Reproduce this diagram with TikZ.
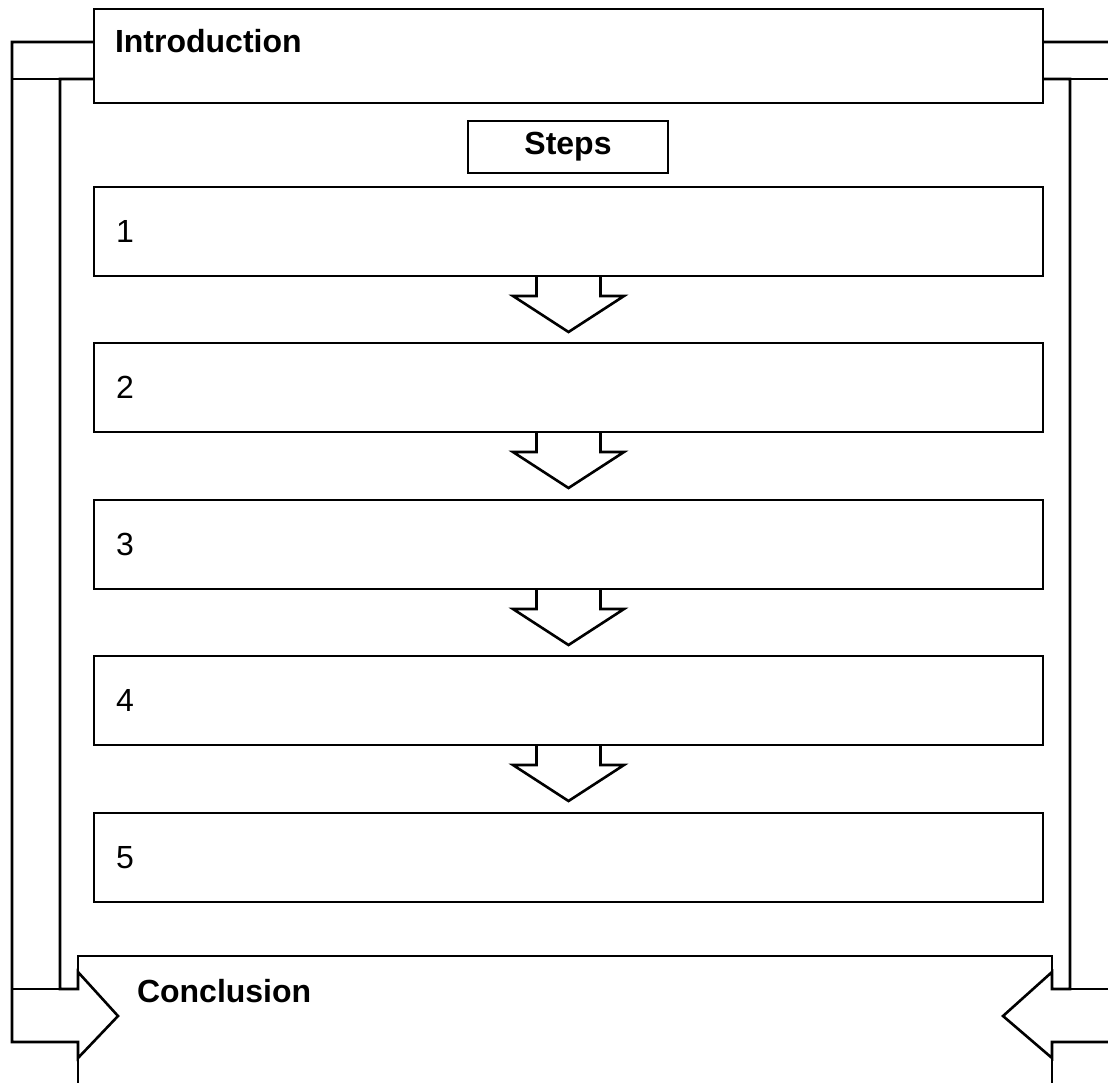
\documentclass[tikz,border=0pt]{standalone}
\usepackage{fontspec}
\setmainfont{Liberation Sans}
\usetikzlibrary{backgrounds}

\tikzset{
  box/.style={shape=rectangle, draw=black, line width=1.3pt, outer sep=0pt,
    font=\fontsize{16}{19}\selectfont},
  headbox/.style={box, anchor=north west, inner ysep=0pt, align=left},
  stepbox/.style={box, anchor=north west, inner xsep=11pt, text width=452.5pt,
    minimum height=44.5pt, align=left},
  titlebox/.style={box, minimum width=100pt, minimum height=26pt, inner sep=0pt},
  bracket/.style={draw=black, fill=white, line width=1.3pt, line join=miter},
  downarrow/.style={draw=black, line width=1.3pt, line join=miter}
}

\begin{document}
\begin{tikzpicture}[x=0.5pt, y=-0.5pt]
        \useasboundingbox (0,0) rectangle (1108,1082);
        \clip (0,0) rectangle (1108,1082);

        \node[headbox, inner xsep=10.5pt, text width=453.5pt, text height=21.5pt, text depth=25.5pt] (intro) at (94,9) {\textbf{Introduction}};
        \node[titlebox] (steps) at (568,147) {\textbf{Steps}};

        \foreach \i/\y in {1/187, 2/343, 3/500, 4/656, 5/813}
          \node[stepbox] (s\i) at (94,\y) {\i};

        % arrows between the steps
        \foreach \i in {1,...,4}
          \draw[downarrow] ([xshift=-16pt]s\i.south) -- ++(0,20) -- ++(-23.5,0) -- ++(55.5,36)
            -- ++(55.5,-36) -- ++(-23.5,0) -- ++(0,-20);

        \begin{scope}[on background layer]
        \node[headbox, inner xsep=29.5pt, text width=428pt, text height=23pt, text depth=55pt] (concl) at (78,956) {\textbf{Conclusion}};

        % left bracket
        \draw[bracket] ([yshift=-16.5pt]intro.north west) -- ++(-82,0) |- ([yshift=-43pt]concl.north west)
          -- ++(0,16) -- ++(40,-42) -- ++(-40,-44) -- ++(0,17)
          -| ([xshift=-17pt,yshift=-35pt]intro.north west) -- ([yshift=-35pt]intro.north west);
        \draw[bracket] ([xshift=-41pt,yshift=-35pt]intro.north west) -- ++(48,0);
        \draw[bracket] ([xshift=-33pt,yshift=-16.5pt]concl.north west) -- ++(48,0);

        % right bracket
        \draw[bracket] ([yshift=-16.5pt]intro.north east) -- ++(75,0) |- ([yshift=-43pt]concl.north east)
          -- ++(0,16) -- ++(-49,-42) -- ++(49,-44) -- ++(0,17)
          -| ([xshift=13.5pt,yshift=-35pt]intro.north east) -- ([yshift=-35pt]intro.north east);
        \draw[bracket] ([xshift=13.5pt,yshift=-35pt]intro.north east) -- ++(48,0);
        \draw[bracket] ([xshift=9pt,yshift=-16.5pt]concl.north east) -- ++(48,0);
        \end{scope}
\end{tikzpicture}
\end{document}
